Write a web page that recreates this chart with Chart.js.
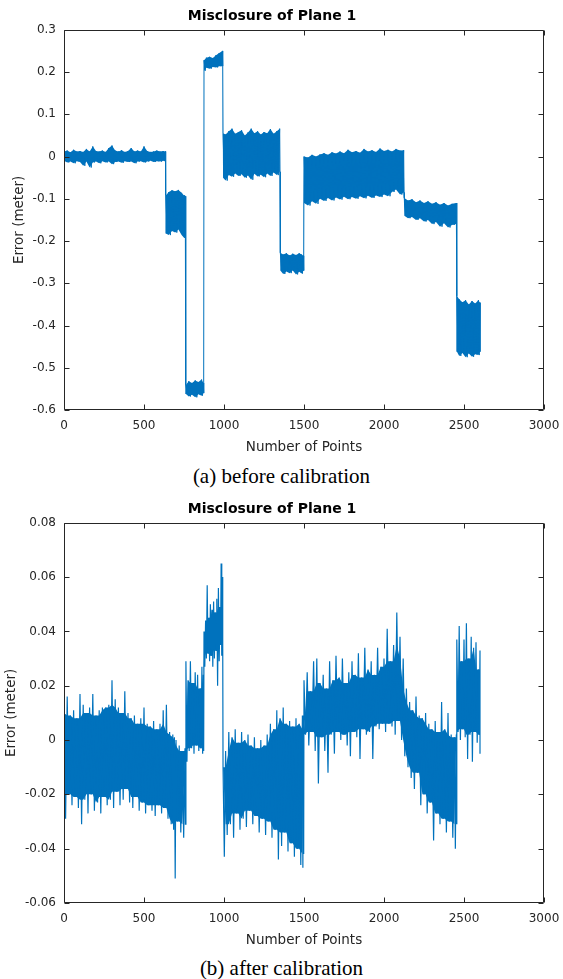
<!DOCTYPE html>
<html>
<head>
<meta charset="utf-8">
<script src="https://cdn.jsdelivr.net/npm/chart.js@4.4.1/dist/chart.umd.min.js"></script>
<style>
body { margin: 0; background: #fff; width: 563px; height: 979px; position: relative; overflow: hidden; }
canvas { position: absolute; left: 0; width: 563px; height: 460px; }
.cap { position: absolute; left: 0; width: 563px; text-align: center; font-family: "Liberation Serif", "Times New Roman", serif; font-size: 21px; line-height: 24px; color: #000; }
</style>
</head>
<body>
<canvas id="before" width="563" height="460" style="top:0"></canvas>
<div class="cap" style="top:464px">(a) before calibration</div>
<canvas id="after" width="563" height="460" style="top:493px"></canvas>
<div class="cap" style="top:956px">(b) after calibration</div>
<script>
const xTicks = [0, 500, 1000, 1500, 2000, 2500, 3000];
const beforeTicks = [0.3, 0.2, 0.1, 0, -0.1, -0.2, -0.3, -0.4, -0.5, -0.6];
const afterTicks = [0.08, 0.06, 0.04, 0.02, 0, -0.02, -0.04, -0.06];

// before calibration: sample position, upper and lower edge of the noise band (meter)
const beforeX = [
  0, 20, 40, 60, 80, 100, 120, 140, 160, 180, 200, 220, 240, 260, 280, 300, 320, 340, 360, 380, 400, 420, 440, 460, 480, 500, 520, 540, 560, 580, 600, 620, 634,
  636, 655, 675, 695, 715, 735, 750, 758,
  762, 780, 800, 820, 840, 860, 871,
  875, 890, 910, 930, 950, 970, 990,
  994, 1010, 1030, 1050, 1070, 1090, 1110, 1130, 1150, 1170, 1190, 1210, 1230, 1250, 1270, 1290, 1310, 1330, 1348,
  1352, 1370, 1390, 1410, 1430, 1450, 1470, 1485, 1496,
  1500, 1525, 1550, 1575, 1600, 1625, 1650, 1675, 1700, 1725, 1750, 1775, 1800, 1825, 1850, 1875, 1900, 1925, 1950, 1975, 2000, 2025, 2050, 2075, 2100, 2123,
  2127, 2150, 2175, 2200, 2225, 2250, 2275, 2300, 2325, 2350, 2375, 2400, 2425, 2452,
  2456, 2470, 2490, 2510, 2530, 2550, 2570, 2590, 2600
];
const beforeHigh = [
  0.012, 0.014, 0.010, 0.016, 0.012, 0.013, 0.011, 0.018, 0.012, 0.024, 0.013, 0.012, 0.014, 0.011, 0.020, 0.026, 0.014, 0.012, 0.015, 0.011, 0.013, 0.020, 0.012, 0.014, 0.012, 0.024, 0.013, 0.011, 0.012, 0.014, 0.012, 0.013, 0.012,
  -0.092, -0.084, -0.080, -0.082, -0.079, -0.086, -0.092, -0.094,
  -0.540, -0.532, -0.536, -0.530, -0.534, -0.528, -0.536,
  0.228, 0.234, 0.236, 0.233, 0.240, 0.245, 0.250,
  0.055, 0.052, 0.060, 0.066, 0.054, 0.058, 0.062, 0.050, 0.057, 0.066, 0.055, 0.060, 0.052, 0.058, 0.055, 0.065, 0.054, 0.060, 0.066,
  -0.228, -0.232, -0.229, -0.234, -0.230, -0.233, -0.229, -0.232, -0.235,
  0.000, -0.002, 0.004, 0.000, 0.005, 0.008, 0.004, 0.010, 0.007, 0.012, 0.008, 0.016, 0.010, 0.013, 0.009, 0.018, 0.012, 0.015, 0.011, 0.019, 0.013, 0.016, 0.012, 0.018, 0.014, 0.015,
  -0.098, -0.104, -0.101, -0.108, -0.104, -0.110, -0.106, -0.112, -0.108, -0.114, -0.110, -0.116, -0.112, -0.110,
  -0.330, -0.338, -0.345, -0.340, -0.350, -0.342, -0.348, -0.340, -0.346
];
const beforeLow = [
  -0.010, -0.014, -0.012, -0.016, -0.011, -0.013, -0.022, -0.012, -0.026, -0.014, -0.012, -0.016, -0.011, -0.014, -0.012, -0.018, -0.013, -0.012, -0.015, -0.011, -0.013, -0.012, -0.016, -0.012, -0.011, -0.014, -0.012, -0.010, -0.013, -0.011, -0.012, -0.010, -0.012,
  -0.182, -0.186, -0.176, -0.180, -0.173, -0.186, -0.192, -0.188,
  -0.562, -0.568, -0.564, -0.570, -0.563, -0.566, -0.560,
  0.203, 0.210, 0.208, 0.212, 0.211, 0.214, 0.214,
  -0.050, -0.057, -0.044, -0.048, -0.040, -0.046, -0.042, -0.050, -0.045, -0.055, -0.041, -0.047, -0.043, -0.049, -0.040, -0.046, -0.038, -0.044, -0.036,
  -0.270, -0.278, -0.272, -0.276, -0.270, -0.279, -0.273, -0.277, -0.270,
  -0.110, -0.116, -0.106, -0.112, -0.100, -0.105, -0.098, -0.104, -0.097, -0.102, -0.095, -0.101, -0.096, -0.100, -0.094, -0.099, -0.093, -0.098, -0.092, -0.096, -0.090, -0.094, -0.084, -0.078, -0.090, -0.085,
  -0.140, -0.146, -0.143, -0.150, -0.146, -0.154, -0.150, -0.160, -0.155, -0.166, -0.158, -0.168, -0.162, -0.160,
  -0.462, -0.472, -0.465, -0.475, -0.466, -0.474, -0.468, -0.470, -0.462
];

// after calibration
const afterX = [
  0, 20, 40, 60, 80, 100, 120, 140, 160, 180, 200, 220, 240, 260, 280, 300, 320, 340, 360, 380, 400, 420, 440, 460, 480, 500, 520, 540, 560, 580, 600, 620, 640, 660, 680, 690, 700, 720, 740, 756,
  762, 775, 790, 805, 820, 835, 850, 862, 871,
  875, 885, 895, 905, 915, 925, 935, 945, 955, 965, 975, 982, 990,
  994, 1010, 1030, 1050, 1070, 1090, 1110, 1130, 1150, 1170, 1190, 1210, 1230, 1250, 1270, 1290, 1310, 1330, 1350, 1370, 1390, 1410, 1430, 1450, 1470, 1490, 1496,
  1500, 1520, 1540, 1560, 1580, 1600, 1620, 1640, 1660, 1680, 1700, 1720, 1740, 1760, 1780, 1800, 1820, 1840, 1860, 1880, 1900, 1920, 1940, 1960, 1980, 2000, 2020, 2040, 2060, 2080, 2100, 2120,
  2140, 2160, 2180, 2200, 2220, 2240, 2260, 2280, 2300, 2320, 2340, 2360, 2380, 2400, 2420, 2440, 2452,
  2456, 2470, 2485, 2500, 2515, 2530, 2545, 2560, 2575, 2590, 2600
];
const afterHigh = [
  0.010, 0.016, 0.009, 0.011, 0.008, 0.017, 0.013, 0.010, 0.012, 0.017, 0.009, 0.011, 0.012, 0.012, 0.013, 0.022, 0.015, 0.012, 0.010, 0.018, 0.010, 0.008, 0.009, 0.006, 0.008, 0.012, 0.006, 0.005, 0.007, 0.004, 0.006, 0.011, 0.013, 0.003, 0.002, 0.001, 0.000, -0.002, -0.004, -0.003,
  0.029, 0.022, 0.029, 0.021, 0.025, 0.024, 0.019, 0.027, 0.024,
  0.040, 0.044, 0.057, 0.045, 0.050, 0.048, 0.051, 0.047, 0.052, 0.056, 0.049, 0.065, 0.060,
  -0.010, -0.004, 0.003, 0.001, 0.004, -0.001, 0.003, 0.000, 0.002, -0.002, 0.001, -0.003, 0.000, -0.002, 0.002, 0.006, 0.004, 0.011, 0.008, 0.012, 0.006, 0.007, 0.005, 0.008, 0.006, 0.009, 0.004,
  0.022, 0.025, 0.018, 0.029, 0.030, 0.021, 0.024, 0.019, 0.029, 0.022, 0.031, 0.023, 0.030, 0.021, 0.025, 0.029, 0.024, 0.032, 0.023, 0.034, 0.026, 0.029, 0.024, 0.034, 0.027, 0.030, 0.041, 0.029, 0.035, 0.047, 0.038, 0.030,
  0.019, 0.014, 0.011, 0.016, 0.009, 0.008, 0.010, 0.006, 0.004, 0.007, 0.003, 0.014, 0.004, 0.010, 0.002, 0.001, 0.002,
  0.037, 0.042, 0.029, 0.037, 0.043, 0.030, 0.038, 0.034, 0.036, 0.026, 0.033
];
const afterLow = [
  -0.029, -0.020, -0.024, -0.021, -0.025, -0.031, -0.022, -0.027, -0.020, -0.026, -0.023, -0.027, -0.021, -0.024, -0.022, -0.025, -0.019, -0.024, -0.022, -0.018, -0.023, -0.025, -0.021, -0.026, -0.023, -0.027, -0.024, -0.026, -0.028, -0.024, -0.027, -0.025, -0.029, -0.031, -0.033, -0.051, -0.030, -0.034, -0.036, -0.031,
  -0.008, -0.004, -0.003, -0.005, -0.002, -0.004, -0.003, -0.005, -0.004,
  0.027, 0.030, 0.032, 0.029, 0.031, 0.027, 0.030, 0.033, 0.020, 0.029, 0.035, 0.031, 0.036,
  -0.043, -0.035, -0.031, -0.036, -0.027, -0.033, -0.029, -0.032, -0.026, -0.031, -0.028, -0.034, -0.029, -0.035, -0.030, -0.036, -0.033, -0.044, -0.039, -0.034, -0.041, -0.038, -0.043, -0.040, -0.046, -0.047, -0.042,
  0.002, -0.002, 0.003, -0.004, -0.016, 0.001, -0.004, -0.012, 0.002, -0.005, 0.003, 0.000, 0.002, -0.002, -0.006, 0.003, 0.001, -0.007, 0.004, 0.002, 0.003, -0.007, 0.005, 0.004, 0.006, 0.003, 0.006, 0.005, 0.002, 0.007, 0.000, -0.006,
  -0.010, -0.014, -0.018, -0.012, -0.024, -0.020, -0.027, -0.023, -0.037, -0.027, -0.031, -0.029, -0.034, -0.030, -0.036, -0.040, -0.031,
  0.003, 0.000, 0.004, 0.001, -0.007, 0.002, -0.008, 0.003, -0.001, 0.002, -0.005
];

const lineBlue = '#0072BD';
const axisGrey = '#262626';
const sans = '"DejaVu Sans", "Liberation Sans", sans-serif';

// box round the plot with inward ticks on all four sides, like matlab
const frame = {
    id: 'frame',
    afterDraw(chart) {
        const { ctx, chartArea: a, scales } = chart;
        const l = Math.round(a.left) + 0.5, r = Math.round(a.right) - 0.5;
        const t = Math.round(a.top) + 0.5, b = Math.round(a.bottom) - 0.5;
        ctx.save();
        ctx.strokeStyle = axisGrey;
        ctx.lineWidth = 1;
        ctx.beginPath();
        ctx.rect(l, t, r - l, b - t);
        scales.x.ticks.forEach(tk => {
            const px = Math.round(scales.x.getPixelForValue(tk.value)) + 0.5;
            ctx.moveTo(px, b); ctx.lineTo(px, b - 5);
            ctx.moveTo(px, t); ctx.lineTo(px, t + 5);
        });
        scales.y.ticks.forEach(tk => {
            const py = Math.round(scales.y.getPixelForValue(tk.value)) + 0.5;
            ctx.moveTo(l, py); ctx.lineTo(l + 5, py);
            ctx.moveTo(r, py); ctx.lineTo(r - 5, py);
        });
        ctx.stroke();
        ctx.restore();
    }
};

function drawPlot(id, xs, highs, lows, yTicks, labelPad, spikyCore) {
    // noisy trace: swing from the upper edge to the lower edge at every sample
    const trace = [];
    xs.forEach((x, i) => {
        const next = i < xs.length - 1 ? xs[i + 1] : x;
        trace.push({ x: x, y: highs[i] });
        trace.push({ x: (x + next) / 2, y: lows[i] });
    });
    // solid body of the band; for the spiky plot leave single spikes out of it
    let top = highs, bottom = lows;
    if (spikyCore) {
        top = highs.map((v, i) => Math.max(lows[i], Math.min(v, highs[i - 1] ?? v, highs[i + 1] ?? v)));
        bottom = lows.map((v, i) => Math.min(highs[i], Math.max(v, lows[i - 1] ?? v, lows[i + 1] ?? v)));
    }
    const upper = xs.map((x, i) => ({ x: x, y: top[i] }));
    const lower = xs.map((x, i) => ({ x: x, y: bottom[i] }));

    new Chart(document.getElementById(id), {
        type: 'line',
        data: {
            datasets: [
                { data: trace, borderWidth: spikyCore ? 1.2 : 1, borderColor: lineBlue, pointRadius: 0, fill: false, tension: 0 },
                { data: upper, borderWidth: 0, pointRadius: 0, fill: '+1', backgroundColor: lineBlue },
                { data: lower, borderWidth: 0, pointRadius: 0, fill: false }
            ]
        },
        options: {
            responsive: false,
            devicePixelRatio: 1,
            animation: false,
            layout: { padding: { left: 0, right: 19, top: 0, bottom: 0 } },
            plugins: {
                legend: { display: false },
                tooltip: { enabled: false },
                title: {
                    display: true,
                    text: 'Misclosure of Plane 1',
                    color: '#000',
                    font: { family: sans, size: 14, weight: 'bold' },
                    padding: { top: 8, bottom: 5 }
                }
            },
            scales: {
                x: {
                    type: 'linear',
                    min: 0,
                    max: 3000,
                    afterBuildTicks: s => { s.ticks = xTicks.map(v => ({ value: v })); },
                    afterFit: s => { s.height = 50; s.paddingLeft = 0; s.paddingRight = 0; },
                    grid: { display: false, drawTicks: false },
                    border: { display: false },
                    ticks: { color: axisGrey, font: { family: sans, size: 12 }, padding: 9, maxRotation: 0, autoSkip: false, callback: v => String(v) },
                    title: { display: true, text: 'Number of Points', color: axisGrey, font: { family: sans, size: 13.5 }, padding: { top: 0, bottom: 4 } }
                },
                y: {
                    min: yTicks[yTicks.length - 1],
                    max: yTicks[0],
                    afterBuildTicks: s => { s.ticks = yTicks.map(v => ({ value: v })); },
                    afterFit: s => { s.width = 64; },
                    grid: { display: false, drawTicks: false },
                    border: { display: false },
                    ticks: { color: axisGrey, font: { family: sans, size: 12 }, padding: 8, callback: v => String(+v.toFixed(2)) },
                    title: { display: true, text: 'Error (meter)', color: axisGrey, font: { family: sans, size: 13.5 }, padding: { top: labelPad, bottom: 0 } }
                }
            }
        },
        plugins: [frame]
    });
}

drawPlot('before', beforeX, beforeHigh, beforeLow, beforeTicks, 11, false);
drawPlot('after', afterX, afterHigh, afterLow, afterTicks, 3, true);
</script>
</body>
</html>
